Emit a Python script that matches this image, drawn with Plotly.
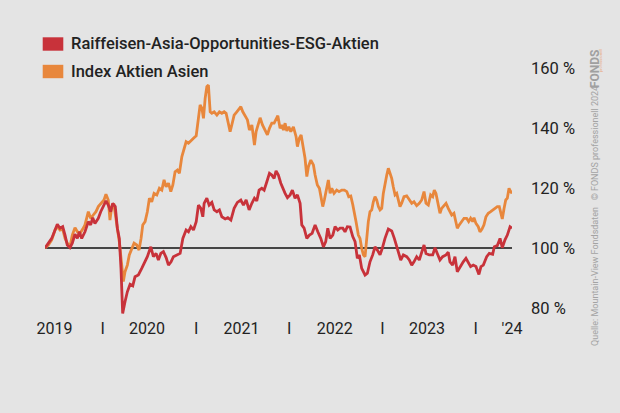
import plotly.graph_objects as go
from datetime import datetime, timedelta

# ---------------- data (decimal years, % values) ----------------
fund_t = [2019.381, 2019.417, 2019.453, 2019.489, 2019.513, 2019.542, 2019.571, 2019.596, 2019.620, 2019.649,
          2019.674, 2019.703, 2019.728, 2019.749, 2019.775, 2019.810, 2019.846, 2019.871, 2019.893, 2019.917,
          2019.953, 2019.979, 2020.006, 2020.035, 2020.060, 2020.086, 2020.107, 2020.135, 2020.157, 2020.178,
          2020.196, 2020.214, 2020.239, 2020.264, 2020.293, 2020.322, 2020.346, 2020.382, 2020.418, 2020.454,
          2020.478, 2020.515, 2020.543, 2020.572, 2020.596, 2020.622, 2020.650, 2020.679, 2020.704, 2020.732,
          2020.757, 2020.794, 2020.829, 2020.858, 2020.893, 2020.918, 2020.944, 2020.972, 2021.001, 2021.025,
          2021.051, 2021.072, 2021.086, 2021.115, 2021.140, 2021.169, 2021.194, 2021.223, 2021.250, 2021.276,
          2021.312, 2021.340, 2021.373, 2021.408, 2021.443, 2021.480, 2021.508, 2021.537, 2021.569, 2021.598,
          2021.626, 2021.651, 2021.676, 2021.705, 2021.730, 2021.759, 2021.787, 2021.812, 2021.837, 2021.858,
          2021.883, 2021.909, 2021.930, 2021.955, 2021.980, 2022.009, 2022.033, 2022.062, 2022.087, 2022.116,
          2022.134, 2022.159, 2022.188, 2022.216, 2022.245, 2022.277, 2022.306, 2022.338, 2022.366, 2022.391,
          2022.413, 2022.438, 2022.467, 2022.491, 2022.520, 2022.545, 2022.574, 2022.598, 2022.623, 2022.652,
          2022.681, 2022.706, 2022.730, 2022.752, 2022.777, 2022.813, 2022.838, 2022.866, 2022.895, 2022.920,
          2022.945, 2022.974, 2022.998, 2023.027, 2023.063, 2023.099, 2023.127, 2023.159, 2023.196, 2023.224,
          2023.260, 2023.288, 2023.314, 2023.338, 2023.367, 2023.395, 2023.421, 2023.446, 2023.467, 2023.502,
          2023.539, 2023.564, 2023.588, 2023.617, 2023.646, 2023.682, 2023.706, 2023.724, 2023.753, 2023.778,
          2023.803, 2023.832, 2023.867, 2023.896, 2023.921, 2023.946, 2023.974, 2024.003, 2024.035, 2024.057,
          2024.082, 2024.118, 2024.146, 2024.182, 2024.200, 2024.232, 2024.261, 2024.285, 2024.314, 2024.339,
          2024.368, 2024.389]
fund_v = [100.0, 101.6, 103.2, 106.0, 107.9, 106.6, 107.1, 104.3, 101.0, 100.1,
          101.6, 104.6, 103.2, 105.4, 103.2, 105.4, 108.8, 107.7, 110.1, 108.2,
          109.9, 112.1, 113.8, 115.7, 114.3, 112.1, 114.9, 113.8, 106.6, 103.2,
          93.2, 78.2, 82.1, 85.4, 87.9, 87.4, 90.4, 91.0, 93.2, 95.4,
          97.1, 100.4, 97.1, 98.2, 96.0, 98.2, 98.8, 96.8, 94.3, 95.4,
          97.1, 97.7, 98.2, 103.2, 106.0, 105.4, 107.1, 106.0, 108.8, 114.3,
          113.2, 110.4, 114.9, 116.6, 114.3, 115.2, 112.7, 112.1, 112.7, 110.4,
          109.7, 110.1, 109.3, 113.2, 115.2, 116.0, 114.3, 116.0, 112.7, 114.9,
          116.6, 115.7, 119.3, 119.9, 119.3, 122.1, 124.9, 124.3, 123.2, 125.7,
          124.3, 121.6, 119.9, 118.2, 116.8, 117.7, 119.3, 116.6, 117.7, 114.9,
          107.7, 106.6, 103.2, 104.3, 104.9, 107.7, 105.4, 103.2, 100.4, 102.1,
          106.6, 103.2, 104.3, 107.1, 106.0, 106.6, 106.6, 105.4, 107.1, 107.0,
          103.8, 102.1, 96.6, 97.7, 93.2, 91.0, 91.6, 95.4, 97.7, 100.4,
          99.3, 97.7, 99.9, 103.2, 106.3, 105.7, 103.2, 99.9, 96.0, 97.7,
          97.1, 96.0, 94.3, 95.4, 97.1, 96.0, 98.8, 101.0, 98.2, 97.7,
          97.7, 100.1, 98.2, 96.0, 97.1, 97.7, 98.6, 95.4, 94.3, 97.1,
          92.1, 93.8, 95.4, 96.6, 94.9, 93.8, 94.3, 93.8, 91.2, 93.8,
          94.3, 97.1, 98.2, 97.9, 100.4, 100.8, 103.2, 100.1, 102.7, 104.3,
          107.1, 106.6]

index_t = [2019.381, 2019.417, 2019.453, 2019.489, 2019.513, 2019.542, 2019.571, 2019.596, 2019.620, 2019.649,
           2019.674, 2019.703, 2019.728, 2019.757, 2019.786, 2019.810, 2019.846, 2019.871, 2019.899, 2019.928,
           2019.953, 2019.989, 2020.014, 2020.035, 2020.060, 2020.078, 2020.097, 2020.121, 2020.150, 2020.178,
           2020.204, 2020.221, 2020.239, 2020.264, 2020.285, 2020.311, 2020.336, 2020.365, 2020.389, 2020.411,
           2020.429, 2020.454, 2020.478, 2020.500, 2020.525, 2020.550, 2020.579, 2020.607, 2020.633, 2020.657,
           2020.679, 2020.704, 2020.729, 2020.751, 2020.775, 2020.800, 2020.821, 2020.847, 2020.872, 2020.893,
           2020.918, 2020.944, 2020.972, 2021.001, 2021.025, 2021.043, 2021.062, 2021.079, 2021.097, 2021.115,
           2021.132, 2021.151, 2021.169, 2021.194, 2021.223, 2021.250, 2021.276, 2021.301, 2021.322, 2021.347,
           2021.365, 2021.383, 2021.408, 2021.437, 2021.454, 2021.480, 2021.501, 2021.526, 2021.551, 2021.572,
           2021.598, 2021.615, 2021.626, 2021.644, 2021.669, 2021.687, 2021.712, 2021.741, 2021.765, 2021.787,
           2021.812, 2021.837, 2021.858, 2021.877, 2021.901, 2021.920, 2021.937, 2021.955, 2021.973, 2021.995,
           2022.016, 2022.044, 2022.073, 2022.087, 2022.108, 2022.127, 2022.145, 2022.169, 2022.188, 2022.205,
           2022.231, 2022.259, 2022.277, 2022.301, 2022.323, 2022.341, 2022.359, 2022.376, 2022.402, 2022.419,
           2022.438, 2022.456, 2022.480, 2022.509, 2022.534, 2022.563, 2022.591, 2022.617, 2022.638, 2022.660,
           2022.681, 2022.695, 2022.716, 2022.741, 2022.759, 2022.777, 2022.795, 2022.813, 2022.831, 2022.848,
           2022.866, 2022.885, 2022.902, 2022.920, 2022.938, 2022.956, 2022.974, 2022.992, 2023.009, 2023.027,
           2023.046, 2023.063, 2023.081, 2023.099, 2023.116, 2023.135, 2023.153, 2023.170, 2023.188, 2023.206,
           2023.231, 2023.260, 2023.288, 2023.314, 2023.338, 2023.367, 2023.395, 2023.421, 2023.446, 2023.467,
           2023.492, 2023.517, 2023.539, 2023.556, 2023.574, 2023.592, 2023.617, 2023.635, 2023.660, 2023.682,
           2023.706, 2023.724, 2023.743, 2023.767, 2023.789, 2023.803, 2023.824, 2023.850, 2023.875, 2023.903,
           2023.925, 2023.946, 2023.968, 2023.982, 2024.003, 2024.028, 2024.046, 2024.068, 2024.089, 2024.110,
           2024.135, 2024.161, 2024.189, 2024.215, 2024.232, 2024.253, 2024.268, 2024.285, 2024.304, 2024.322,
           2024.339, 2024.357, 2024.375, 2024.389]
index_v = [100.0, 101.0, 102.7, 106.0, 107.1, 106.0, 106.3, 103.2, 101.6, 100.4,
           104.3, 106.8, 105.4, 104.9, 106.3, 107.7, 112.1, 109.9, 111.0, 112.1,
           113.8, 114.9, 116.0, 117.9, 116.0, 109.3, 113.8, 114.3, 108.8, 102.1,
           94.3, 88.8, 92.1, 94.3, 97.7, 99.9, 101.6, 101.0, 99.3, 103.2,
           107.7, 108.8, 112.1, 116.6, 115.4, 118.2, 117.7, 119.9, 119.3, 122.7,
           120.4, 121.6, 118.8, 121.0, 125.4, 126.0, 124.9, 130.4, 132.7, 135.4,
           134.9, 135.8, 136.6, 137.4, 143.2, 147.7, 146.6, 143.2, 149.9, 153.8,
           154.3, 145.4, 144.9, 145.4, 144.3, 145.4, 144.9, 145.4, 144.9, 141.6,
           138.8, 141.0, 144.3, 145.4, 146.0, 147.1, 145.4, 143.8, 142.7, 139.3,
           141.0, 137.1, 134.3, 138.8, 142.1, 143.4, 141.0, 139.3, 137.7, 139.9,
           141.6, 141.6, 143.2, 144.1, 139.9, 141.0, 139.3, 141.6, 139.0, 140.4,
           138.8, 140.4, 137.1, 133.8, 136.6, 137.7, 134.3, 129.9, 123.8, 127.1,
           129.3, 127.7, 124.3, 121.0, 119.9, 116.0, 113.8, 116.0, 119.9, 122.7,
           118.2, 119.9, 118.2, 119.3, 118.8, 119.3, 119.3, 118.8, 117.1, 117.3,
           114.5, 112.5, 108.8, 104.3, 103.2, 99.9, 97.7, 97.1, 103.2, 108.8,
           112.1, 112.7, 115.4, 117.1, 116.0, 113.8, 112.7, 113.2, 118.2, 121.6,
           124.3, 126.6, 124.9, 123.2, 120.4, 117.7, 118.2, 116.0, 113.8, 114.9,
           117.1, 117.4, 116.0, 114.9, 115.4, 114.1, 114.9, 116.0, 118.8, 114.9,
           114.3, 117.7, 117.1, 119.3, 118.2, 115.4, 111.6, 113.2, 114.3, 114.9,
           113.2, 112.1, 111.0, 111.6, 108.8, 106.6, 107.7, 108.8, 109.9, 109.9,
           108.8, 109.9, 108.8, 110.1, 108.2, 107.1, 105.4, 106.3, 107.7, 110.4,
           111.6, 112.1, 112.7, 113.2, 113.8, 113.8, 112.1, 109.7, 113.2, 116.0,
           116.6, 119.9, 118.8, 118.2]

series_names = ["Raiffeisen-Asia-Opportunities-ESG-Aktien", "Index Aktien Asien"]
y_ticks = [80, 100, 120, 140, 160]
year_labels = ["2019", "2020", "2021", "2022", "2023", "'24"]
year_label_pos = [2019.483, 2020.475, 2021.488, 2022.487, 2023.478, 2024.389]
year_bounds = [2020.0, 2021.0, 2022.0, 2023.0, 2024.0]
source_text = "Quelle: Mountain-View Fondsdaten   © FONDS professionell 2024"


def to_date(y):
    yr = int(y)
    start = datetime(yr, 1, 1)
    days = (datetime(yr + 1, 1, 1) - start).days
    return start + timedelta(days=(y - yr) * days)


# ---------------- styling ----------------
BG = "#e4e4e4"
RED = "#c8323a"
ORANGE = "#e8873c"
TXT = "#222222"
FONT = "Roboto, sans-serif"

W, H = 620, 413
ML, MR, MT, MB = 45, 108, 53, 96


def px_x(p):
    return (p - ML) / (W - ML - MR)


def px_y(p):
    return (H - MB - p) / (H - MT - MB)


fig = go.Figure()
fig.add_trace(go.Scatter(x=[to_date(t) for t in index_t], y=index_v, mode="lines",
                         name=series_names[1], line=dict(color=ORANGE, width=2.8)))
fig.add_trace(go.Scatter(x=[to_date(t) for t in fund_t], y=fund_v, mode="lines",
                         name=series_names[0], line=dict(color=RED, width=2.8)))

# 100 % baseline
fig.add_shape(type="line", xref="paper", yref="y", x0=0, x1=1, y0=100, y1=100,
              line=dict(color="#111111", width=1.3), layer="below")

tickvals = [to_date(v) for v in year_label_pos] + [to_date(v) for v in year_bounds]
ticktext = year_labels + ["I"] * len(year_bounds)

fig.update_layout(
    width=W, height=H,
    margin=dict(l=ML, r=MR, t=MT, b=MB),
    paper_bgcolor=BG, plot_bgcolor=BG,
    showlegend=False,
    font=dict(family=FONT, color=TXT, size=16),
    xaxis=dict(range=[to_date(fund_t[0]), to_date(fund_t[-1])], showgrid=False, zeroline=False,
               showline=False, ticks="", tickvals=tickvals, ticktext=ticktext,
               tickfont=dict(size=16, color=TXT), ticklabelstandoff=0),
    yaxis=dict(range=[77, 165], side="right", showgrid=False, zeroline=False, showline=False,
               ticks="", tickvals=y_ticks, ticktext=[f"{v} %" for v in y_ticks],
               tickfont=dict(size=16.5, color=TXT), ticklabelstandoff=18),
)

# manual legend
colors = [RED, ORANGE]
rows = [44, 71.5]
for name, col, cy in zip(series_names, colors, rows):
    fig.add_shape(type="rect", xref="paper", yref="paper",
                  x0=px_x(42.7), x1=px_x(63.3), y0=px_y(cy - 6.7), y1=px_y(cy + 6.7),
                  fillcolor=col, line=dict(width=0))
    fig.add_annotation(xref="paper", yref="paper", x=px_x(69), y=px_y(cy), text=name,
                       showarrow=False, xanchor="left", yanchor="middle",
                       font=dict(size=16.5, color=TXT, family=FONT, weight=500))

# vertical source text
fig.add_annotation(xref="paper", yref="paper", x=px_x(595), y=px_y(216), text=source_text,
                   textangle=-90, showarrow=False, xanchor="center", yanchor="middle",
                   font=dict(size=9, color="#a3a3a3", family=FONT))
fig.add_annotation(xref="paper", yref="paper", x=px_x(595), y=px_y(69), text="<b>FONDS</b>",
                   textangle=-90, showarrow=False, xanchor="center", yanchor="middle",
                   font=dict(size=12, color="#a0a0a0", family=FONT))
fig.add_annotation(xref="paper", yref="paper", x=px_x(601), y=px_y(61), text="professionell",
                   textangle=-90, showarrow=False, xanchor="center", yanchor="middle",
                   font=dict(size=4, color="#e9a57a", family=FONT))

fig.write_html("out.html", config={"displayModeBar": False},
               post_script="document.body.style.margin='0';document.body.style.background='%s';" % BG)
